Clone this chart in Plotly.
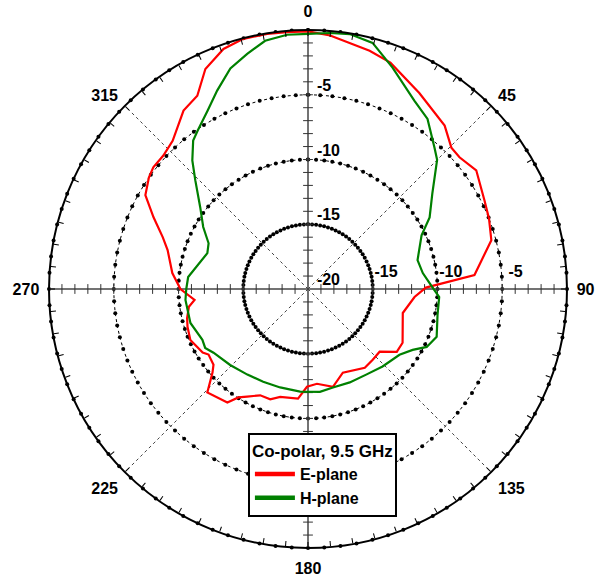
import numpy as np
import plotly.graph_objects as go

# Co-polar radiation pattern at 9.5 GHz, normalised gain in dB
E_THETA = [0, 5, 14.5, 20, 29.6, 39.9, 45.4, 49, 54.8, 63.3, 68.7, 75.1, 85.2, 89.3,
           94.3, 104.2, 119.6, 125.3, 131.2, 137.5, 144.2, 157.4, 165.7, 174.6, 180.6,
           185.2, 194.5, 198.9, 204.2, 209.5, 212.7, 215.4, 224.2, 228.8, 231.3, 236.6,
           238.9, 246.6, 252.6, 256.5, 261.5, 264.5, 270, 276.7, 285.5, 289.6, 294.9,
           300, 305, 308.2, 312.7, 317.6, 325.1, 330.2, 335, 340.6, 345.5, 350.9, 355.3, 360]
E_GAIN = [-0.1, -0.35, -1.0, -1.4, -2.6, -3.55, -4.45, -4.5, -4.1, -4.75, -5.0, -5.35, -7.1, -10.9,
          -11.75, -12.45, -11.6, -11.6, -12.65, -12.6, -12.5, -13.0, -12.2, -12.65, -12.45,
          -11.5, -11.4, -11.0, -11.0, -10.45, -10.05, -9.25, -8.85, -10.2, -10.65, -10.8,
          -10.5, -10.1, -10.25, -10.4, -10.7, -11.2, -10.15, -9.45, -8.75, -8.1, -6.85,
          -5.5, -5.0, -4.8, -4.8, -4.5, -3.2, -2.8, -1.25, -0.35, -0.05, -0.05, -0.1, -0.1]

H_THETA = [0, 4.9, 9.3, 14.7, 20.9, 29.5, 35.1, 41.8, 45, 52.5, 59.5, 64.7, 75.2, 82.1,
           87.2, 93.5, 101.3, 110.4, 116, 120.2, 125.7, 136.1, 145.5, 155.9, 165.8, 173.4,
           184.4, 195.8, 205.8, 215.3, 225.7, 236, 240.2, 244.3, 253.9, 264.9, 270, 275.7,
           289.6, 294.7, 300.6, 307.2, 314, 318, 322.3, 325.1, 330.6, 335.4, 340.6, 345.5,
           350.2, 355.3, 360]
H_GAIN = [-0.3, -0.16, -0.05, -0.35, -1.7, -3.3, -3.95, -5.35, -5.9, -7.9, -9.1, -10.3, -11.25, -11.05,
          -10.6, -9.85, -9.8, -9.4, -9.8, -10.65, -11.3, -11.7, -12.0, -12.1, -12.15, -12.0,
          -12.05, -12.1, -12.05, -11.9, -11.6, -11.2, -10.85, -10.95, -10.55, -10.5, -10.6, -10.7,
          -11.75, -11.55, -10.6, -9.55, -7.9, -6.65, -5.5, -5.1, -4.2, -3.15, -1.95, -1.25,
          -0.55, -0.3, -0.3]

R_MIN, R_MAX = -20, 0
RING_LEVELS = [-15, -10, -5]
RADIAL_LABELS = [-20, -15, -10, -5]
SIDE_LABELS = [-15, -10, -5]
ANGLE_LABELS = [0, 45, 90, 135, 180, 225, 270, 315]

FONT = "Liberation Sans, Arial, sans-serif"
BOLD = dict(family=FONT, size=16, color="black", weight=700)
NBSP = "\u00a0"

fig = go.Figure()

ring_theta = np.linspace(0, 360, 101)

# dotted dB rings with dot markers
for lvl in RING_LEVELS:
    fig.add_trace(go.Scatterpolar(
        r=[lvl] * len(ring_theta), theta=ring_theta, mode="lines+markers",
        line=dict(color="black", width=1, dash="dot"),
        marker=dict(color="black", size=4),
        showlegend=False, hoverinfo="skip"))

# outer 0 dB ring dots
fig.add_trace(go.Scatterpolar(
    r=[R_MAX] * len(ring_theta), theta=ring_theta, mode="markers",
    marker=dict(color="black", size=4),
    showlegend=False, hoverinfo="skip"))

# diagonal spokes (dotted)
for ang in [45, 135, 225, 315]:
    fig.add_trace(go.Scatterpolar(
        r=[R_MIN, R_MAX], theta=[ang, ang], mode="lines",
        line=dict(color="#444", width=1, dash="dot"),
        showlegend=False, hoverinfo="skip"))

# main cross axes with 1 dB tick marks
db_ticks = list(range(R_MIN + 1, R_MAX))
for ang, sym in [(0, "line-ew"), (180, "line-ew"), (90, "line-ns"), (270, "line-ns")]:
    fig.add_trace(go.Scatterpolar(
        r=[R_MIN, R_MAX], theta=[ang, ang], mode="lines",
        line=dict(color="#444", width=1.5),
        showlegend=False, hoverinfo="skip"))
    fig.add_trace(go.Scatterpolar(
        r=db_ticks, theta=[ang] * len(db_ticks), mode="markers",
        marker=dict(symbol=sym, size=7, line=dict(width=1, color="#333")),
        showlegend=False, hoverinfo="skip"))

# pattern curves (legend entries drawn separately with a heavier stroke)
SERIES = [("E-plane", E_THETA, E_GAIN, "#ff0000"), ("H-plane", H_THETA, H_GAIN, "#008000")]
for name, th, g, col in SERIES:
    fig.add_trace(go.Scatterpolar(
        r=g, theta=th, mode="lines", name=name, legendgroup=name,
        line=dict(color=col, width=2.2), showlegend=False))
for name, th, g, col in SERIES:
    fig.add_trace(go.Scatterpolar(
        r=[None], theta=[None], mode="lines", name=name, legendgroup=name,
        line=dict(color=col, width=4.5)))

# radial scale labels along 0 deg and 90 deg
fig.add_trace(go.Scatterpolar(
    r=RADIAL_LABELS, theta=[0] * len(RADIAL_LABELS), mode="text",
    text=[NBSP * 2 + str(v) for v in RADIAL_LABELS], textposition="top right",
    textfont=BOLD, showlegend=False, hoverinfo="skip", subplot="polar2"))
# invisible anchor markers push the 90 deg labels up off the axis line
fig.add_trace(go.Scatterpolar(
    r=SIDE_LABELS, theta=[90] * len(SIDE_LABELS), mode="markers+text",
    marker=dict(size=12, opacity=0),
    text=[NBSP * 6 + str(v) for v in SIDE_LABELS], textposition="top center",
    textfont=BOLD, showlegend=False, hoverinfo="skip", subplot="polar2"))

tick_vals = list(range(0, 360, 5))

hidden_radial = dict(range=[R_MIN, R_MAX], showline=False, showgrid=False,
                     showticklabels=False, ticks="")

fig.update_layout(
    width=596, height=579,
    margin=dict(l=49, r=29, t=30, b=31),
    paper_bgcolor="white", plot_bgcolor="white",
    font=dict(family=FONT, color="black"),
    polar=dict(
        domain=dict(x=[0, 1], y=[0, 1]),
        bgcolor="white",
        radialaxis=hidden_radial,
        angularaxis=dict(direction="clockwise", rotation=90,
                         tickmode="array", tickvals=tick_vals,
                         showticklabels=False,
                         ticks="inside", ticklen=5, tickcolor="black", tickwidth=1,
                         showline=True, linecolor="black", linewidth=2,
                         showgrid=False),
    ),
    polar2=dict(
        domain=dict(x=[0, 1], y=[0, 1]),
        bgcolor="rgba(0,0,0,0)",
        radialaxis=hidden_radial,
        angularaxis=dict(direction="clockwise", rotation=90,
                         tickmode="array", tickvals=ANGLE_LABELS,
                         ticktext=[str(v) for v in ANGLE_LABELS],
                         ticks="outside", ticklen=6, tickcolor="rgba(0,0,0,0)",
                         showline=False, showgrid=False, tickfont=BOLD),
    ),
    legend=dict(x=0.384, y=0.222, xanchor="left", yanchor="top",
                bgcolor="white", bordercolor="black", borderwidth=2,
                title=dict(text="Co-polar, 9.5 GHz", font=dict(family=FONT, size=17, weight=700)),
                font=dict(family=FONT, size=16, color="black", weight=700),
                tracegroupgap=0, itemwidth=40),
)

fig.write_html("out.html")
